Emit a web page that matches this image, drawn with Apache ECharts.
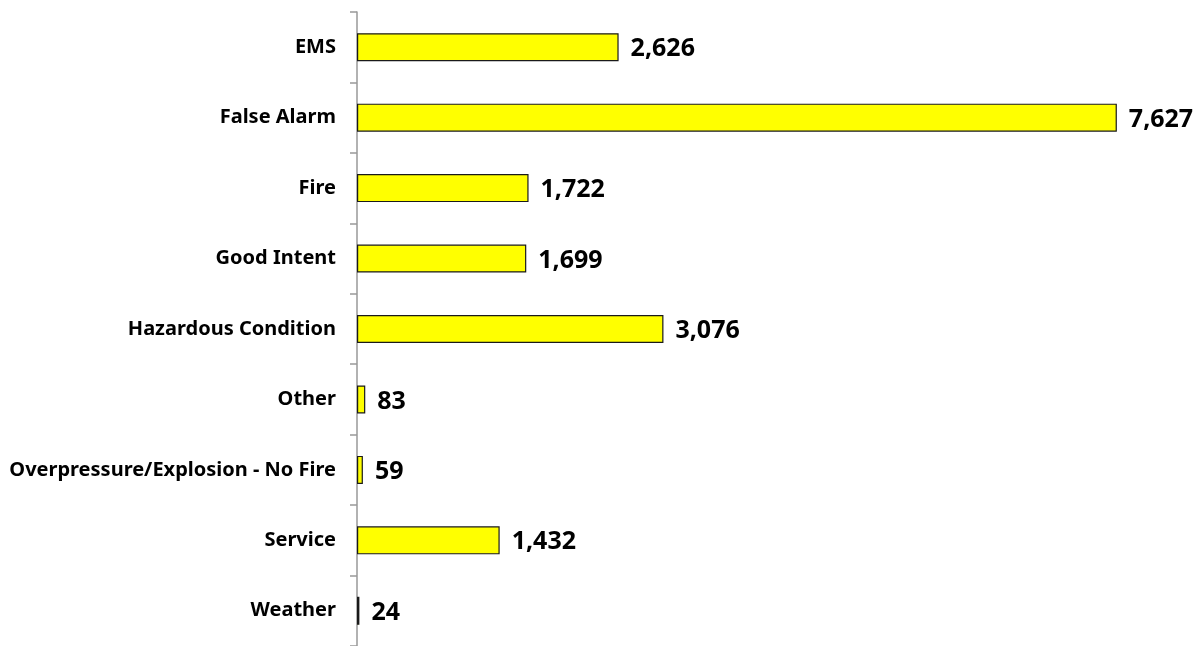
<!DOCTYPE html>
<html>
<head>
<meta charset="utf-8">
<script src="https://cdn.jsdelivr.net/npm/echarts@6/dist/echarts.min.js"></script>
<style>
	html, body { margin: 0; padding: 0; background: #fff; }
	#chart { width: 1202px; height: 646px; }
</style>
</head>
<body>
<div id="chart"></div>
<script>
	//分类
	var categories = ['EMS', 'False Alarm', 'Fire', 'Good Intent', 'Hazardous Condition', 'Other', 'Overpressure/Explosion - No Fire', 'Service', 'Weather'];
	//数值
	var counts = [2626, 7627, 1722, 1699, 3076, 83, 59, 1432, 24];

	var FONT = '"Noto Sans", "Open Sans", sans-serif';

	var myChart = echarts.init(document.getElementById('chart'));
	var option = {
		animation: false,
		grid: { left: 357, right: 48, top: 12, bottom: -1 },
		xAxis: {
			type: 'value', min: 0, max: 8000,
			show: false,
			splitLine: { show: false }
		},
		yAxis: {
			type: 'category', data: categories, inverse: true,
			axisLine: { show: true, lineStyle: { color: '#999', width: 1.5 } },
			axisTick: { show: true, length: 7, lineStyle: { color: '#999', width: 1.5 } },
			axisLabel: {
				margin: 21, color: '#000', fontFamily: FONT,
				fontWeight: 'bold', fontSize: 20, padding: [2, 0, 0, 0]
			}
		},
		series: [{
			type: 'bar', data: counts, barWidth: 28,
			itemStyle: { color: '#ffff00', borderColor: '#1a1a1a', borderWidth: 1.2 },
			label: {
				show: true, position: 'right', distance: 12, offset: [0, 2],
				color: '#000', fontFamily: FONT, fontWeight: 'bold', fontSize: 25,
				formatter: function (p) { return p.value.toLocaleString('en-US'); }
			}
		}]
	};
	myChart.setOption(option);
</script>
</body>
</html>
